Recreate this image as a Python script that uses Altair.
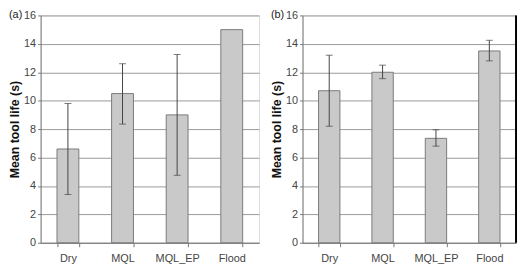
import altair as alt
import pandas as pd

categories = ["Dry", "MQL", "MQL_EP", "Flood"]
a_mean = [6.6, 10.5, 9.0, 15.0]
a_low = [3.4, 8.35, 4.75, None]
a_high = [9.8, 12.6, 13.25, None]
b_mean = [10.7, 12.0, 7.35, 13.5]
b_low = [8.2, 11.55, 6.8, 12.8]
b_high = [13.2, 12.5, 7.95, 14.25]
y_ticks = [0, 2, 4, 6, 8, 10, 12, 14, 16]

FONT = "Liberation Sans"
H = 230


def panel(mean, low, high, label, width, border=False):
    df = pd.DataFrame({"cat": categories, "mean": mean, "low": low, "high": high})
    x_axis = alt.Axis(labelAngle=0, tickBand="extent", domainColor="#777",
                      tickColor="#777", labelColor="#444", labelFontSize=11,
                      labelPadding=6, tickSize=4)
    x_scale = alt.Scale(paddingInner=0.6, paddingOuter=0.3)
    y_axis = alt.Axis(values=y_ticks, grid=True, gridColor="#9a9a9a",
                      domainColor="#777", tickColor="#777", tickSize=3,
                      labelColor="#444", labelFontSize=11, titleFontSize=12.5,
                      titleFontWeight="bold", titleColor="#111",
                      titlePadding=2, labelPadding=2, labelOverlap=False)
    y_scale = alt.Scale(domain=[0, 16], nice=False)
    T = "Mean tool life (s)"

    def X():
        return alt.X("cat:N", sort=categories, title=None, scale=x_scale, axis=x_axis)

    def Y(f):
        return alt.Y(f"{f}:Q", scale=y_scale, title=T, axis=y_axis)

    bars = alt.Chart(df).mark_bar(fill="#c9c9c9", stroke="#7a7a7a", strokeWidth=1).encode(
        x=X(), y=Y("mean"))
    err = alt.Chart(df).mark_rule(color="#444", strokeWidth=1).encode(
        x=X(), y=Y("low"), y2="high:Q")
    cap_lo = alt.Chart(df).mark_tick(color="#444", thickness=1, size=7, orient="horizontal").encode(
        x=X(), y=Y("low"))
    cap_hi = alt.Chart(df).mark_tick(color="#444", thickness=1, size=7, orient="horizontal").encode(
        x=X(), y=Y("high"))
    txt = alt.Chart(pd.DataFrame({"t": [label]})).mark_text(
        align="left", baseline="middle", fontSize=11, color="#222", font=FONT).encode(
        text="t:N", x=alt.value(-32), y=alt.value(0))
    layers = [bars, err, cap_lo, cap_hi, txt]
    if border:
        layers.append(alt.Chart(pd.DataFrame({"v": [0]})).mark_rule(color="#000", strokeWidth=2).encode(
            x=alt.value(width), y=alt.value(0), y2=alt.value(H)))
    return alt.layer(*layers).properties(width=width, height=H)


pa = panel(a_mean, a_low, a_high, "(a)", 221)
pb = panel(b_mean, b_low, b_high, "(b)", 216, border=True)

chart = alt.hconcat(pa, pb, spacing=10).resolve_scale(y="independent").properties(
    padding={"left": 0, "top": -1, "right": 0, "bottom": 0}
).configure_view(stroke=None).configure(font=FONT)

chart.save("out.html", embed_options={"renderer": "svg", "actions": False})
